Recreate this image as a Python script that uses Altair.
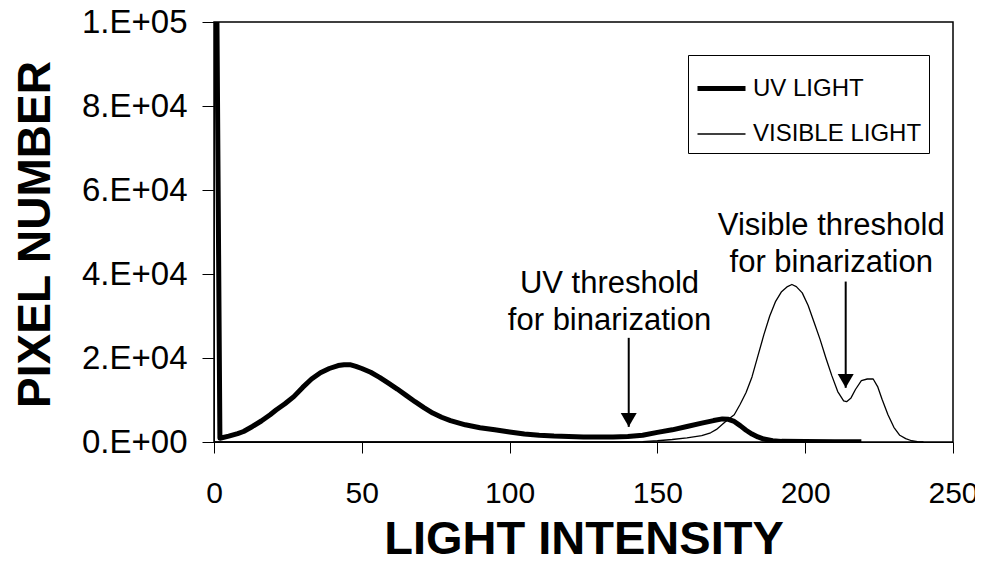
import altair as alt
import pandas as pd

# ---- data ----
series_names = ["UV LIGHT", "VISIBLE LIGHT"]

uv_x = [0, 1, 2, 5, 8, 10, 13, 16, 19, 21, 24, 27, 30, 33, 36, 39, 42, 44, 46, 48,
        50, 53, 56, 59, 62, 65, 68, 71, 74, 77, 80, 85, 90, 95, 100, 105, 110, 115,
        120, 125, 130, 135, 140, 145, 150, 155, 160, 165, 169, 172, 174, 176, 178,
        180, 182, 184, 186, 189, 192, 200, 210, 219]
uv_y = [100000, 100000, 900, 1400, 2000, 2500, 3700, 5000, 6500, 7600, 9100, 10800,
        13000, 15000, 16500, 17500, 18200, 18400, 18400, 18000, 17500, 16600, 15400,
        14000, 12600, 11100, 9600, 8200, 6900, 5900, 5100, 4100, 3400, 2900, 2400,
        1900, 1600, 1400, 1300, 1200, 1200, 1200, 1300, 1600, 2300, 2900, 3700, 4500,
        5100, 5500, 5400, 4900, 3900, 2800, 1900, 1200, 700, 300, 150, 100, 50, 50]

vis_x = [0, 50, 100, 140, 145, 150, 155, 160, 165, 168, 170, 172, 174, 176, 178,
         180, 182, 184, 186, 188, 190, 192, 194, 195.5, 197, 199, 201, 203, 205, 207,
         209, 211, 213, 214, 215.5, 217, 219, 221, 223, 224.5, 226, 228, 230, 232,
         234, 236, 238, 240]
vis_y = [0, 0, 0, 0, 100, 300, 600, 1000, 1500, 2200, 3000, 4200, 5400, 6500, 9000,
         11800, 15500, 20500, 25500, 30000, 33500, 35800, 37000, 37500, 37000, 35500,
         32500, 28500, 24500, 20000, 15800, 12000, 9800, 9600, 10500, 12500, 14600,
         15000, 15000, 13200, 10200, 6500, 3500, 1600, 800, 300, 100, 0]

x_ticks = [0, 50, 100, 150, 200, 250]
y_ticks = [0, 20000, 40000, 60000, 80000, 100000]
y_tick_labels = ["0.E+00", "2.E+04", "4.E+04", "6.E+04", "8.E+04", "1.E+05"]

ann_text = ["UV threshold", "for binarization", "Visible threshold", "for binarization"]
ann_x = [133.8, 133.8, 208.8, 208.8]
ann_y = [35400, 26700, 49300, 40500]

arrow_x = [140.3, 213.7]
arrow_top = [24800, 38200]
arrow_tip = [3600, 12900]

# ---- tables ----
curves = pd.concat([
    pd.DataFrame({"intensity": uv_x, "count": uv_y, "series": series_names[0]}),
    pd.DataFrame({"intensity": vis_x, "count": vis_y, "series": series_names[1]}),
], ignore_index=True)
ann_df = pd.DataFrame({"x": ann_x, "y": ann_y, "text": ann_text})
arrow_df = pd.DataFrame({"x": arrow_x, "top": arrow_top, "tip": arrow_tip})

FONT = "Liberation Sans"

label_expr = " : ".join(
    f"datum.value == {v} ? '{t}'" for v, t in zip(y_ticks, y_tick_labels)
) + " : ''"

xscale = alt.Scale(domain=[0, 250], nice=False, zero=False)
yscale = alt.Scale(domain=[0, 100000], nice=False)

xaxis = alt.Axis(values=x_ticks, title="LIGHT INTENSITY", titleFont=FONT,
                 titleFontSize=47, titleFontWeight="bold", titleColor="black",
                 titleBaseline="alphabetic", titleY=111,
                 labelFont=FONT, labelFontSize=30, labelColor="black",
                 labelPadding=25, labelFlush=False, tickSize=11,
                 tickColor="black", domainColor="black", grid=False)
yaxis = alt.Axis(values=y_ticks, labelExpr=label_expr, title="PIXEL NUMBER",
                 titleFont=FONT, titleFontSize=46, titleFontWeight="bold",
                 titleColor="black", titleAngle=270, titleBaseline="alphabetic",
                 titleAlign="center", titleX=-165, titleY=212,
                 labelFont=FONT, labelFontSize=33, labelColor="black",
                 labelPadding=15, tickSize=12, tickColor="black",
                 domainColor="black", grid=False)

lines = alt.Chart(curves).mark_line(color="black", strokeJoin="round", clip=True).encode(
    x=alt.X("intensity:Q", scale=xscale, axis=xaxis),
    y=alt.Y("count:Q", scale=yscale, axis=yaxis),
    strokeWidth=alt.StrokeWidth(
        "series:N",
        scale=alt.Scale(domain=series_names, range=[5, 1.3]),
        legend=alt.Legend(title=None, orient="none", legendX=474, legendY=33,
                          symbolType="stroke", symbolStrokeColor="black",
                          symbolSize=2304, labelFont=FONT, labelFontSize=24,
                          labelColor="black", labelOffset=5, labelLimit=400,
                          padding=7, rowPadding=8, strokeColor="black",
                          fillColor="white"),
    ),
    order=alt.Order("intensity:Q"),
)

rules = alt.Chart(arrow_df).mark_rule(color="black", strokeWidth=2).encode(
    x="x:Q", y="top:Q", y2="tip:Q"
)
heads = alt.Chart(arrow_df).mark_point(shape="triangle-down", filled=True, color="black",
                                        opacity=1, size=256, yOffset=-7).encode(
    x="x:Q", y="tip:Q"
)
texts = alt.Chart(ann_df).mark_text(font=FONT, fontSize=31, align="center",
                                     baseline="alphabetic", color="black").encode(
    x="x:Q", y="y:Q", text="text:N"
)

chart = alt.layer(lines, rules, heads, texts).properties(
    width=739, height=420, autosize="none",
    padding={"left": 206, "top": 14, "right": 22, "bottom": 118},
).configure_view(stroke="black", strokeWidth=1.5)

chart.save("out.html", embed_options={"renderer": "svg", "actions": False})
